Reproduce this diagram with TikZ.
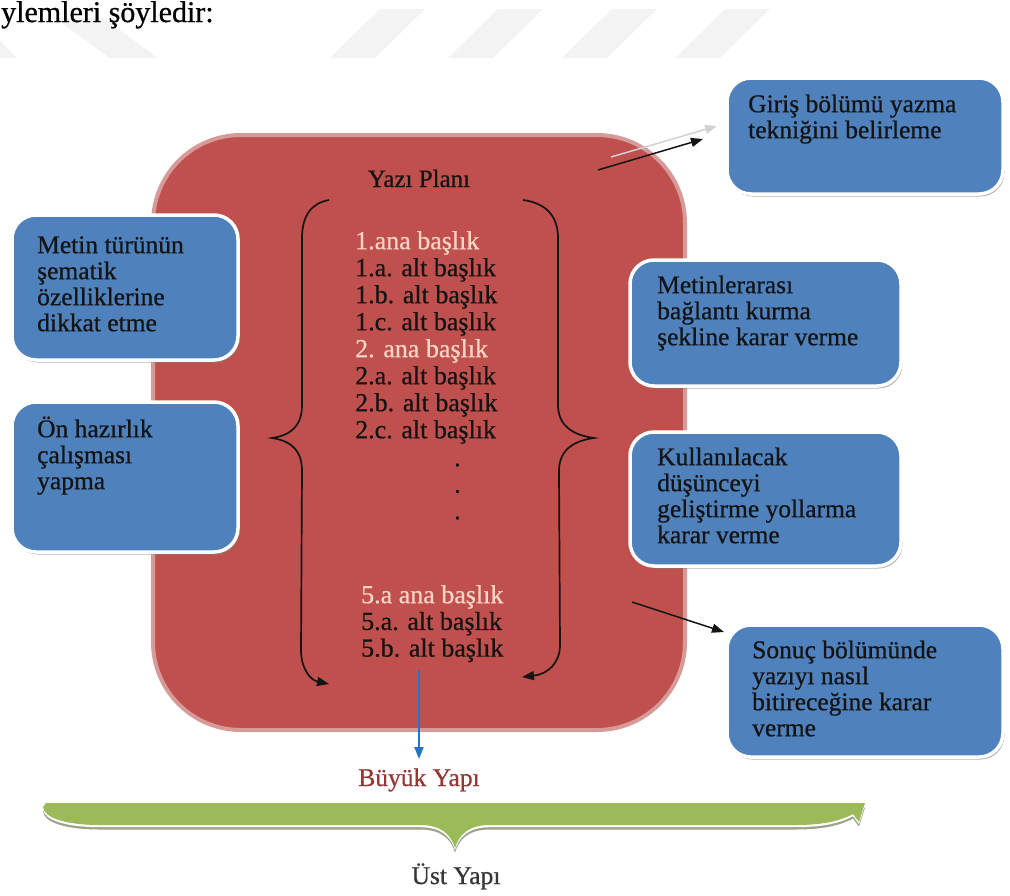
\documentclass[tikz,border=0pt]{standalone}
\usepackage{fontspec}
\setmainfont{Liberation Serif}[UprightFeatures={FakeBold=0.7}]
\usetikzlibrary{arrows.meta,shadows}
\definecolor{redfill}{HTML}{C0504D}
\definecolor{redline}{HTML}{D69A98}
\definecolor{bluefill}{HTML}{4F81BD}
\definecolor{greenfill}{HTML}{9BBB59}
\definecolor{greenshadow}{HTML}{9AA28A}
\definecolor{peach}{HTML}{F6D5C6}
\definecolor{darkred}{HTML}{953735}
\definecolor{arrowblue}{HTML}{2673C0}
\definecolor{wm}{HTML}{F3F3F3}
\definecolor{ink}{HTML}{141414}
\newcommand\tstrut{\rule{0pt}{24pt}}
\begin{document}
\begin{tikzpicture}[x=1pt,y=-1pt,
  box/.style={draw=white, line width=3.5pt, fill=bluefill, rounded corners=24pt,
    drop shadow={shadow xshift=1.5pt, shadow yshift=-2.5pt, fill=black!50, opacity=0.6},
    inner sep=0pt},
  plan/.style={draw=redline, line width=4pt, fill=redfill, rounded corners=88pt,
    minimum width=532pt, minimum height=595pt, inner sep=0pt},
  boxtext/.style={anchor=north west, inner sep=0pt, align=left, text=ink,
    font=\fontsize{25.5}{26}\selectfont},
  listtext/.style={anchor=north west, inner sep=0pt, align=left, text=ink,
    font=\fontsize{26}{27}\selectfont},
  brace/.style={line width=1.7pt, draw=ink},
  ptr/.style={line width=1.5pt, -{Triangle[length=12pt,width=9pt]}},
]
\useasboundingbox (0,0) rectangle (1010,895);
% watermark band
\foreach \xo in {330,448,562,675}{
  \fill[wm] (\xo,58) -- (\xo+45,58) -- (\xo+95,9) -- (\xo+50,9) -- cycle;
}
\fill[wm] (55,18) -- (103,18) -- (158,58) -- (110,58) -- cycle;
\fill[wm] (-70,18) -- (-22,18) -- (17,58) -- (-31,58) -- cycle;
\node[anchor=base west, inner sep=0pt, font=\fontsize{30}{30}\selectfont] (cap) at (1,22) {ylemleri şöyledir:};

% main red plan
\node[plan] (plan) at (419,432.5) {};

% blue boxes
\node[box, minimum width=226pt, minimum height=145pt] (m1) at (125,287.5) {};
\node[box, minimum width=226pt, minimum height=150pt] (o1) at (125,477) {};
\node[box, minimum width=276pt, minimum height=116pt] (g1) at (865,136) {};
\node[box, minimum width=271pt, minimum height=126pt] (k1) at (765.5,323) {};
\node[box, minimum width=271pt, minimum height=134pt] (d1) at (765.5,499) {};
\node[box, minimum width=276pt, minimum height=132pt] (s1) at (865,691) {};

\node[boxtext] (m1t) at (37,229) {\tstrut Metin türünün\\şematik\\özelliklerine\\dikkat etme};
\node[boxtext] (o1t) at (37,413) {\tstrut Ön hazırlık\\çalışması\\yapma};
\node[boxtext] (g1t) at (748,88) {\tstrut Giriş bölümü yazma\\tekniğini belirleme};
\node[boxtext] (k1t) at (657,269) {\tstrut Metinlerarası\\bağlantı kurma\\şekline karar verme};
\node[boxtext] (d1t) at (657,441) {\tstrut Kullanılacak\\düşünceyi\\geliştirme yollarma\\karar verme};
\node[boxtext] (s1t) at (752,634) {\tstrut Sonuç bölümünde\\yazıyı nasıl\\bitireceğine karar\\verme};

% plan contents
\node[anchor=base, inner sep=0pt, text=ink, font=\fontsize{25}{25}\selectfont] (title) at (419,187) {Yazı Planı};
\node[listtext] (l1) at (355,225) {\tstrut\textcolor{peach}{1.ana başlık}\\1.a. alt başlık\\1.b. alt başlık\\1.c. alt başlık\\\textcolor{peach}{2. ana başlık}\\2.a. alt başlık\\2.b. alt başlık\\2.c. alt başlık};
\node[listtext, font=\fontsize{26}{26.5}\selectfont] (dots) at (454,442) {\tstrut .\\.\\.};
\node[listtext, font=\fontsize{26}{26.7}\selectfont] (l5) at (361,579) {\tstrut\textcolor{peach}{5.a ana başlık}\\5.a. alt başlık\\5.b. alt başlık};

% braces
\draw[brace, -{Triangle[length=12pt,width=9pt]}] (329,200) .. controls (312,203) and (302,215) .. (302,238)
  -- (302,405) .. controls (302,425) and (292,435) .. (272,438)
  .. controls (292,441) and (302,451) .. (302,471)
  -- (301,650) .. controls (301,668) and (310,680) .. (329,684);
\draw[brace, -{Triangle[length=12pt,width=9pt]}] (523,200) .. controls (545,203) and (558,215) .. (558,238)
  -- (558,405) .. controls (558,425) and (572,435) .. (594,438)
  .. controls (572,441) and (559,451) .. (559,471)
  -- (560,645) .. controls (560,663) and (548,674) .. (522,677);

% arrows
\coordinate (ga) at (611,157);
\coordinate (gb) at (717,126);
\coordinate (a1) at (598,170);
\coordinate (a2) at (703,139);
\draw[ptr, draw=gray!35, fill=gray!35] (ga) -- (gb);
\draw[ptr, draw=ink] (a1) -- (a2);
\coordinate (b1) at (632,602);
\coordinate (b2) at (724,632);
\draw[ptr, draw=ink] (b1) -- (b2);
\coordinate (c1) at (419,670);
\draw[ptr, draw=arrowblue, line width=1.8pt] (c1) -- (419,759) coordinate (c2);

\node[anchor=base, inner sep=0pt, text=darkred, font=\fontsize{25.5}{25.5}\selectfont] (buyuk) at (419,786) {Büyük Yapı};

% green brace
\foreach \dy/\col in {4.5/greenshadow,2.2/white,0/greenfill}{
  \fill[\col, yshift=-\dy pt] (46,803) -- (865,803) -- (859,822) -- (853,814)
    .. controls (838,822) and (820,825) .. (795,825) -- (490,825)
    .. controls (468,825) and (459,835) .. (455,848)
    .. controls (451,835) and (442,825) .. (420,825) -- (100,825)
    .. controls (66,825) and (44,818) .. (43,807) -- cycle;
}
\node[anchor=base, inner sep=0pt, text=ink!85, font=\fontsize{25.5}{25.5}\selectfont] (ust) at (456,884) {Üst Yapı};
\end{tikzpicture}
\end{document}
